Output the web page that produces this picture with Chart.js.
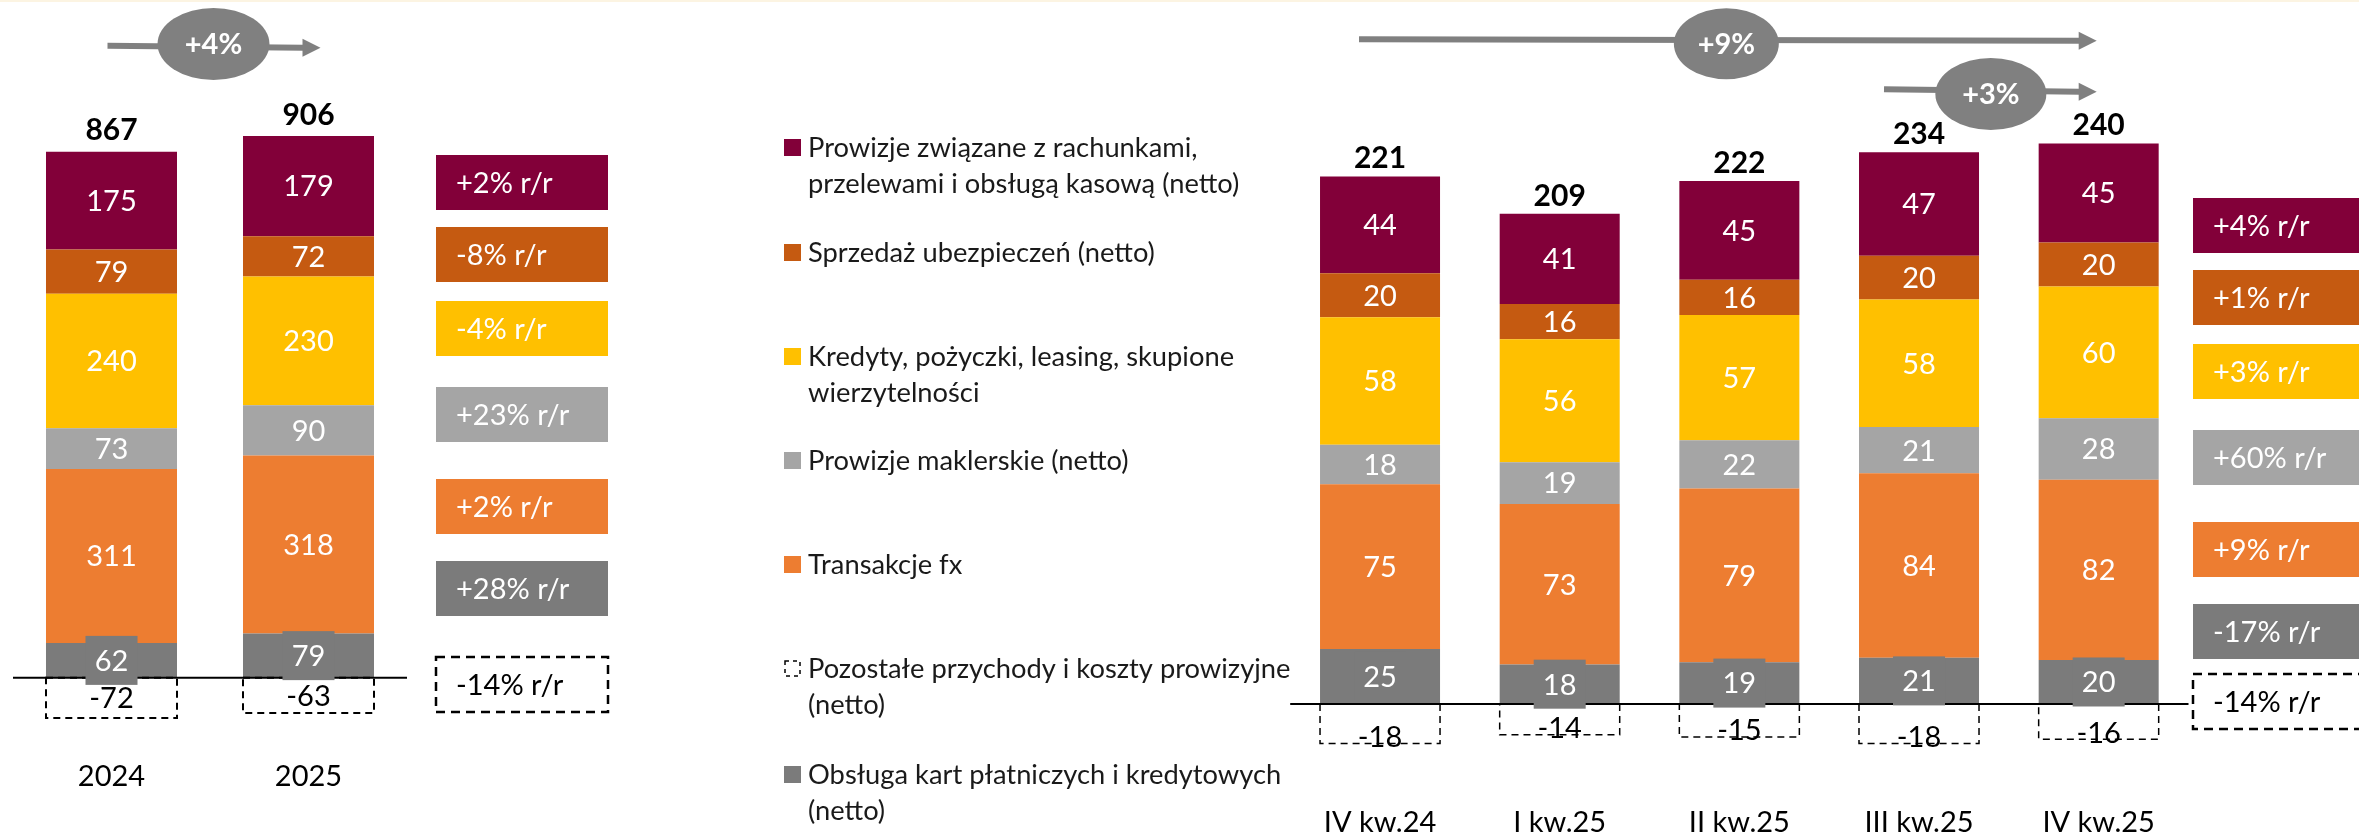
<!DOCTYPE html>
<html lang="pl">
<head>
<meta charset="utf-8">
<script src="https://cdn.jsdelivr.net/npm/chart.js@4.4.1/dist/chart.umd.min.js"></script>
<style>
  html, body { margin: 0; padding: 0; background: #fff; }
  body { width: 2359px; height: 835px; position: relative; overflow: hidden; }
  .strip { position: absolute; left: 0; top: 0; width: 2359px; height: 2px; background: #fcf4e2; }
  #yearly { position: absolute; left: 0; top: 0; }
  #quarterly { position: absolute; left: 760px; top: 0; }
</style>
</head>
<body>
<div class="strip"></div>
<canvas id="yearly" width="640" height="835"></canvas>
<canvas id="quarterly" width="1599" height="835"></canvas>
<script>
Chart.defaults.font.family = 'Lato, "Noto Sans", sans-serif';
Chart.defaults.animation = false;

// --- dane roczne (mln zł)
const years = ['2024', '2025'];
const accountsY  = [175, 179];
const insuranceY = [79, 72];
const creditsY   = [240, 230];
const brokerageY = [73, 90];
const fxY        = [311, 318];
const cardsY     = [62, 79];
const otherY     = [-72, -63];
const totalsY    = [867, 906];
const changeY    = ['+2% r/r', '-8% r/r', '-4% r/r', '+23% r/r', '+2% r/r', '+28% r/r', '-14% r/r'];
const growthY    = ['+4%'];

// --- dane kwartalne (mln zł)
const quarters = ['IV kw.24', 'I kw.25', 'II kw.25', 'III kw.25', 'IV kw.25'];
const accountsQ  = [44, 41, 45, 47, 45];
const insuranceQ = [20, 16, 16, 20, 20];
const creditsQ   = [58, 56, 57, 58, 60];
const brokerageQ = [18, 19, 22, 21, 28];
const fxQ        = [75, 73, 79, 84, 82];
const cardsQ     = [25, 18, 19, 21, 20];
const otherQ     = [-18, -14, -15, -18, -16];
const totalsQ    = [221, 209, 222, 234, 240];
const changeQ    = ['+4% r/r', '+1% r/r', '+3% r/r', '+60% r/r', '+9% r/r', '-17% r/r', '-14% r/r'];
const growthQ    = ['+9%', '+3%'];

const legendItems = [
  { key: 'accounts',  lines: ['Prowizje związane z rachunkami,', 'przelewami i obsługą kasową (netto)'] },
  { key: 'insurance', lines: ['Sprzedaż ubezpieczeń (netto)'] },
  { key: 'credits',   lines: ['Kredyty, pożyczki, leasing, skupione', 'wierzytelności'] },
  { key: 'brokerage', lines: ['Prowizje maklerskie (netto)'] },
  { key: 'fx',        lines: ['Transakcje fx'] },
  { key: 'other',     lines: ['Pozostałe przychody i koszty prowizyjne', '(netto)'] },
  { key: 'cards',     lines: ['Obsługa kart płatniczych i kredytowych', '(netto)'] }
];

const colors = {
  accounts: '#820039',
  insurance: '#c55a11',
  credits: '#ffc000',
  brokerage: '#a5a5a5',
  fx: '#ed7d31',
  cards: '#7b7b7b',
  other: 'rgba(0,0,0,0)'
};
// kolejność ramek z dynamiką r/r (od góry)
const changeOrder = ['accounts', 'insurance', 'credits', 'brokerage', 'fx', 'cards', 'other'];

function makeDatasets(v) {
  // od dołu stosu do góry, na końcu część ujemna
  return ['cards', 'fx', 'brokerage', 'credits', 'insurance', 'accounts', 'other'].map(k => ({
    key: k,
    data: v[k],
    backgroundColor: colors[k],
    borderWidth: 0
  }));
}

function textMid(ctx, txt, x, y, size, bold, color, align) {
  ctx.font = (bold ? 'bold ' : '') + size + 'px Lato, "Noto Sans", sans-serif';
  ctx.fillStyle = color;
  ctx.textAlign = align || 'center';
  ctx.textBaseline = 'alphabetic';
  ctx.fillText(txt, x, y + size * 0.358);
}

function drawArrow(ctx, x0, y0, x1, y1) {
  ctx.strokeStyle = '#808080';
  ctx.fillStyle = '#808080';
  ctx.lineWidth = 6;
  ctx.beginPath();
  ctx.moveTo(x0, y0);
  ctx.lineTo(x1 - 17, y1);
  ctx.stroke();
  ctx.beginPath();
  ctx.moveTo(x1, y1);
  ctx.lineTo(x1 - 18, y1 - 9);
  ctx.lineTo(x1 - 18, y1 + 9);
  ctx.closePath();
  ctx.fill();
}

const annotate = {
  id: 'annotate',
  afterDatasetsDraw(chart, args, o) {
    const ctx = chart.ctx;
    const xs = chart.scales.x, ys = chart.scales.y;
    const zero = ys.getPixelForValue(0);
    const sets = chart.data.datasets;
    ctx.save();

    // ujemne pozycje: przerywana ramka
    const negIdx = sets.findIndex(d => d.key === 'other');
    const negMeta = chart.getDatasetMeta(negIdx);
    ctx.strokeStyle = '#000';
    ctx.lineWidth = o.dashWidth;
    ctx.setLineDash([7, 5]);
    negMeta.data.forEach(el => {
      ctx.strokeRect(el.x - el.width / 2, el.base, el.width, el.y - el.base);
    });
    ctx.setLineDash([]);

    // linia zera
    ctx.lineWidth = 2;
    ctx.beginPath();
    ctx.moveTo(chart.chartArea.left, zero);
    ctx.lineTo(chart.chartArea.right, zero);
    ctx.stroke();

    // etykiety segmentów
    sets.forEach((ds, di) => {
      const meta = chart.getDatasetMeta(di);
      meta.data.forEach((el, i) => {
        const val = ds.data[i];
        if (ds.key === 'other') {
          const cy = o.negAtBottom ? el.y - 7 : (el.y + el.base) / 2;
          textMid(ctx, String(val), el.x, cy, o.valueSize, false, '#000');
          return;
        }
        const cy = (el.y + el.base) / 2;
        if (ds.key === 'cards') {
          ctx.fillStyle = colors.cards;
          ctx.fillRect(el.x - 26, cy - 24.5, 52, 49);
        }
        textMid(ctx, String(val), el.x, cy, o.valueSize, false, '#fff');
      });
    });

    // sumy nad słupkami i etykiety kategorii
    chart.data.labels.forEach((lab, i) => {
      const pos = sets.filter(d => d.key !== 'other').reduce((s, d) => s + d.data[i], 0);
      const top = ys.getPixelForValue(pos);
      const cx = xs.getPixelForValue(i);
      textMid(ctx, String(o.totals[i]), cx, top - o.totalOffset, o.totalSize, true, '#000');
      textMid(ctx, lab, cx, o.catY, o.catSize, false, '#000');
    });

    // ramki z dynamiką r/r
    changeOrder.forEach((k, i) => {
      const top = o.box.tops[i];
      if (k === 'other') {
        ctx.strokeStyle = '#000';
        ctx.lineWidth = 2.5;
        ctx.setLineDash([9, 6]);
        ctx.strokeRect(o.box.x, top, o.box.w, o.box.h);
        ctx.setLineDash([]);
      } else {
        ctx.fillStyle = colors[k];
        ctx.fillRect(o.box.x, top, o.box.w, o.box.h);
      }
      textMid(ctx, o.changes[i], o.box.x + 20, top + o.box.h / 2, o.valueSize, false,
        k === 'other' ? '#000' : '#fff', 'left');
    });

    // strzałki wzrostu
    o.arrows.forEach((a, i) => {
      const c0 = xs.getPixelForValue(a.from), c1 = xs.getPixelForValue(a.to);
      drawArrow(ctx, c0 + a.dx0, a.y0, c1 + a.dx1, a.y1);
      ctx.fillStyle = '#808080';
      ctx.beginPath();
      ctx.ellipse((c0 + c1) / 2 + a.cdx, a.cy, a.rx, a.ry, 0, 0, Math.PI * 2);
      ctx.fill();
      textMid(ctx, o.growth[i], (c0 + c1) / 2 + a.cdx, a.cy, o.valueSize, true, '#fff');
    });

    // legenda
    if (o.legend) {
      const L = o.legend;
      legendItems.forEach((it, i) => {
        const cy = L.ys[i];
        if (it.key === 'other') {
          ctx.strokeStyle = '#000';
          ctx.lineWidth = 1.5;
          ctx.setLineDash([4, 4]);
          ctx.strokeRect(L.x + 1, cy - 7, 15, 15);
          ctx.setLineDash([]);
        } else {
          ctx.fillStyle = colors[it.key];
          ctx.fillRect(L.x, cy - 8, 17, 17);
        }
        it.lines.forEach((ln, j) => {
          textMid(ctx, ln, L.x + 24, cy + j * L.gap, L.size, false, '#1a1a1a', 'left');
        });
      });
    }
    ctx.restore();
  }
};

new Chart(document.getElementById('yearly'), {
  type: 'bar',
  data: {
    labels: years,
    datasets: makeDatasets({ accounts: accountsY, insurance: insuranceY, credits: creditsY,
      brokerage: brokerageY, fx: fxY, cards: cardsY, other: otherY })
  },
  options: {
    responsive: false,
    datasets: { bar: { categoryPercentage: 1, barPercentage: 0.665 } },
    layout: { padding: { left: 13, right: 233, top: 118.1, bottom: 101.3 } },
    scales: {
      x: { display: false, stacked: true },
      y: { display: false, stacked: true, min: -100, max: 1000 }
    },
    plugins: {
      legend: { display: false },
      tooltip: { enabled: false },
      annotate: {
        totals: totalsY, changes: changeY, growth: growthY,
        valueSize: 29, totalSize: 30, catSize: 29, catY: 776, totalOffset: 22,
        dashWidth: 2, negAtBottom: false,
        box: { x: 436, w: 172, h: 55, tops: [155, 227, 301, 387, 479, 561, 657] },
        arrows: [{ from: 0, to: 1, dx0: -4, dx1: 12, y0: 45.7, y1: 47.7, cdx: 3.5, cy: 44, rx: 56, ry: 36 }]
      }
    }
  },
  plugins: [annotate]
});

new Chart(document.getElementById('quarterly'), {
  type: 'bar',
  data: {
    labels: quarters,
    datasets: makeDatasets({ accounts: accountsQ, insurance: insuranceQ, credits: creditsQ,
      brokerage: brokerageQ, fx: fxQ, cards: cardsQ, other: otherQ })
  },
  options: {
    responsive: false,
    datasets: { bar: { categoryPercentage: 1, barPercentage: 0.668 } },
    layout: { padding: { left: 530.2, right: 170.5, top: 88.6, bottom: 65.1 } },
    scales: {
      x: { display: false, stacked: true },
      y: { display: false, stacked: true, min: -30, max: 280 }
    },
    plugins: {
      legend: { display: false },
      tooltip: { enabled: false },
      annotate: {
        totals: totalsQ, changes: changeQ, growth: growthQ,
        valueSize: 29, totalSize: 30, catSize: 29, catY: 822, totalOffset: 19,
        dashWidth: 1.5, negAtBottom: true,
        box: { x: 1433, w: 170, h: 55, tops: [198, 270, 344, 430, 522, 604, 674] },
        arrows: [
          { from: 0, to: 4, dx0: -21, dx1: -2, y0: 39.3, y1: 40.7, cdx: -13, cy: 43.8, rx: 52.5, ry: 35.5 },
          { from: 3, to: 4, dx0: -35, dx1: -2, y0: 89.3, y1: 91.7, cdx: -18, cy: 94, rx: 55.5, ry: 36 }
        ],
        legend: { x: 24, ys: [147, 252, 356, 460, 564, 668, 774], gap: 36.5, size: 27.3 }
      }
    }
  },
  plugins: [annotate]
});
</script>
</body>
</html>
